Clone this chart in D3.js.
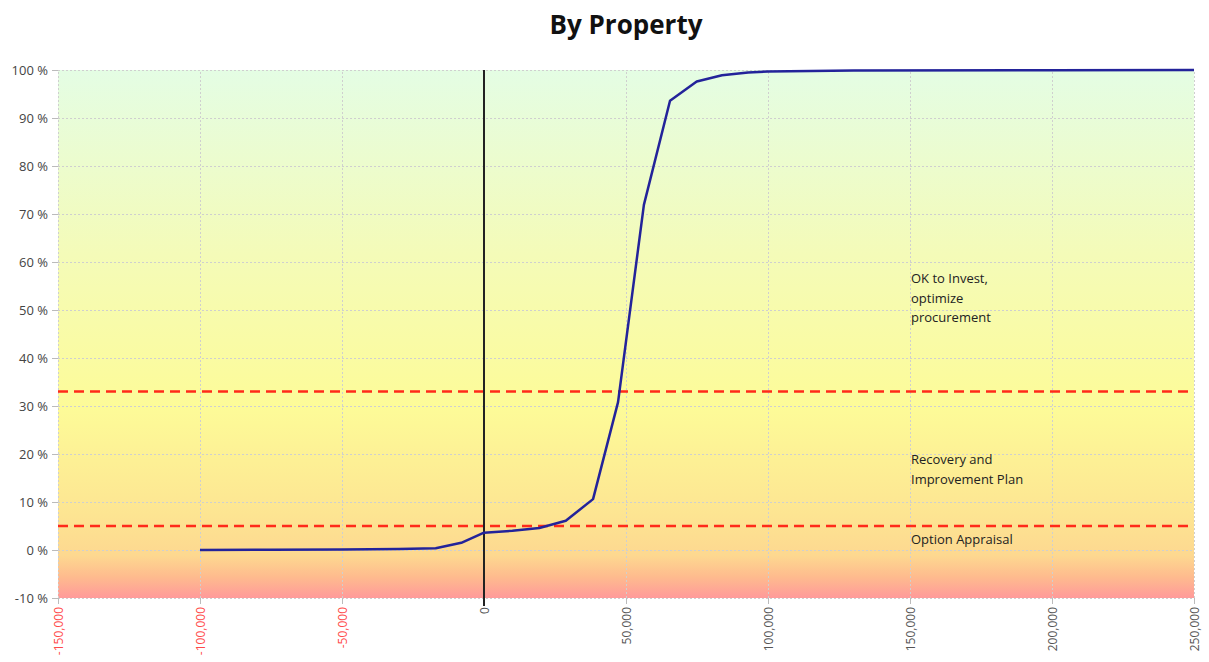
<!DOCTYPE html>
<html>
<head>
<meta charset="utf-8">
<script src="https://cdn.jsdelivr.net/npm/d3@7"></script>
<style>
  body { margin: 0; background: #fff; font-family: "Open Sans", "Noto Sans", sans-serif; }
  .grid line { stroke: #cfcfcf; stroke-dasharray: 2,2; stroke-width: 1; }
  .grid .domain { display: none; }
</style>
</head>
<body>
<div id="chart"></div>
<script>
// chart data
var xValues = [-100000, -75000, -50000, -30000, -17000, -8000, 0, 10000, 19500, 28800, 38400, 47200, 56300, 65500, 74900, 83800, 93000, 100000, 130000, 200000, 250000];
var yValues = [0, 0.05, 0.1, 0.2, 0.35, 1.5, 3.6, 4.0, 4.6, 6.1, 10.6, 30.8, 71.9, 93.6, 97.6, 98.9, 99.5, 99.7, 99.9, 99.95, 100];
var xTicks = [-150000, -100000, -50000, 0, 50000, 100000, 150000, 200000, 250000];
var yTicks = [-10, 0, 10, 20, 30, 40, 50, 60, 70, 80, 90, 100];
var thresholds = [33, 5];
var zoneLabels = [
    { y: 55.6, lines: ["OK to Invest,", "optimize", "procurement"] },
    { y: 17.9, lines: ["Recovery and", "Improvement Plan"] },
    { y: 1.25, lines: ["Option Appraisal"] }
];

var svgWidth = 1209;
var svgHeight = 662;
var margin = { top: 70, right: 15, bottom: 64, left: 58 };
var width = 1194 - margin.left;
var height = 598 - margin.top;

var svg = d3.select("#chart")
    .append("svg")
    .attr("width", svgWidth)
    .attr("height", svgHeight);

// title
svg.append("text")
    .attr("x", 626)
    .attr("y", 34)
    .attr("text-anchor", "middle")
    .attr("font-size", "26px")
    .attr("font-weight", "bold")
    .attr("fill", "#111")
    .text("By Property");

var chartGroup = svg.append("g")
    .attr("transform", `translate(${margin.left}, ${margin.top})`);

var xScale = d3.scaleLinear().domain([-150000, 250000]).range([0, width]);
var yScale = d3.scaleLinear().domain([-10, 100]).range([height, 0]);

// background gradient
var grad = svg.append("defs").append("linearGradient")
    .attr("id", "bg")
    .attr("x1", 0).attr("y1", 0).attr("x2", 0).attr("y2", 1);
[[0, "#e4fde4"], [0.35, "#f4fbb8"], [0.64, "#fdfb98"], [0.84, "#fde592"], [0.92, "#fdd890"], [0.96, "#febb8e"], [1, "#ff9a9a"]]
    .forEach(function(s) {
        grad.append("stop").attr("offset", s[0]).attr("stop-color", s[1]);
    });

chartGroup.append("rect")
    .attr("width", width)
    .attr("height", height)
    .attr("fill", "url(#bg)");

// gridlines
chartGroup.append("g")
    .attr("class", "grid")
    .attr("transform", `translate(0, ${height})`)
    .call(d3.axisBottom(xScale).tickValues(xTicks).tickSize(-height).tickFormat(""));

chartGroup.append("g")
    .attr("class", "grid")
    .call(d3.axisLeft(yScale).tickValues(yTicks).tickSize(-width).tickFormat(""));

// y axis
var yAxis = chartGroup.append("g")
    .call(d3.axisLeft(yScale).tickValues(yTicks).tickSize(6).tickFormat(d => d + " %"));
yAxis.select(".domain").remove();
yAxis.selectAll(".tick line").attr("stroke", "#bbb");
yAxis.selectAll("text")
    .attr("font-size", "13px")
    .attr("fill", "#444")
    .attr("font-family", "Open Sans, sans-serif")
    .attr("x", -10);

// x axis
var fmt = d3.format(",");
var xAxis = chartGroup.append("g")
    .attr("transform", `translate(0, ${height})`)
    .call(d3.axisBottom(xScale).tickValues(xTicks).tickSize(6).tickFormat(d => fmt(d).replace("\u2212", "-")));
xAxis.select(".domain").remove();
xAxis.selectAll(".tick line").attr("stroke", "#bbb");
xAxis.selectAll("text")
    .attr("font-size", "12px")
    .attr("font-family", "Open Sans, sans-serif")
    .attr("fill", d => d < 0 ? "#ff4a4a" : "#555")
    .attr("transform", "rotate(-90)")
    .attr("text-anchor", "end")
    .attr("x", -9)
    .attr("y", 0)
    .attr("dy", "0.35em");

// threshold lines
chartGroup.selectAll(".threshold")
    .data(thresholds)
    .enter()
    .append("line")
    .attr("class", "threshold")
    .attr("x1", 0)
    .attr("x2", width)
    .attr("y1", d => yScale(d))
    .attr("y2", d => yScale(d))
    .attr("stroke", "#ff2a1a")
    .attr("stroke-width", 2.5)
    .attr("stroke-dasharray", "10,6");

// zero line
chartGroup.append("line")
    .attr("x1", xScale(0))
    .attr("x2", xScale(0))
    .attr("y1", 0)
    .attr("y2", height + 8)
    .attr("stroke", "#222")
    .attr("stroke-width", 2);

// curve
var points = xValues.map((x, i) => [x, yValues[i]]);
var line = d3.line()
    .x(d => xScale(d[0]))
    .y(d => yScale(d[1]));

chartGroup.append("path")
    .datum(points)
    .attr("fill", "none")
    .attr("stroke", "#23239a")
    .attr("stroke-width", 2.5)
    .attr("stroke-linejoin", "round")
    .attr("d", line);

// zone labels
zoneLabels.forEach(function(z) {
    var t = chartGroup.append("text")
        .attr("x", xScale(150000) + 1)
        .attr("y", yScale(z.y))
        .attr("font-size", "13px")
        .attr("font-family", "Open Sans, sans-serif")
        .attr("fill", "#222");
    z.lines.forEach(function(l, i) {
        t.append("tspan")
            .attr("x", xScale(150000) + 1)
            .attr("dy", i === 0 ? 0 : "1.5em")
            .text(l);
    });
});
</script>
</body>
</html>
